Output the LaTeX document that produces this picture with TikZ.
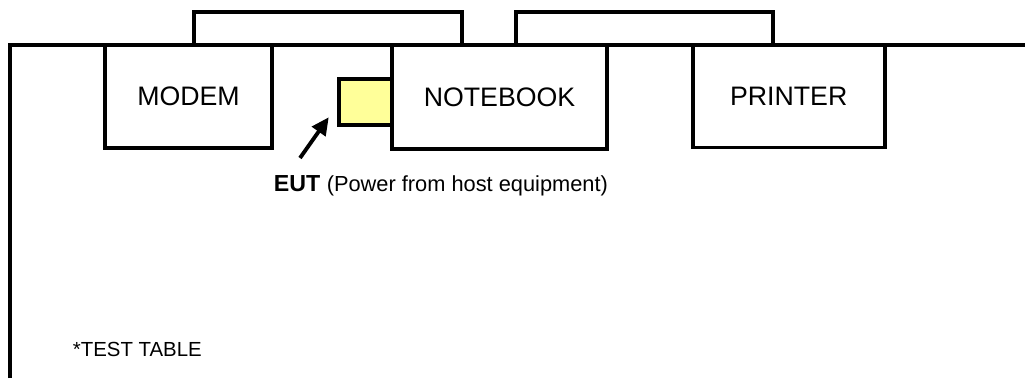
\documentclass[tikz,border=0pt]{standalone}
\usepackage{fontspec}
\setmainfont{Liberation Sans}
\usetikzlibrary{arrows.meta, positioning}

\definecolor{eutyellow}{HTML}{FFFF99}

\begin{document}
\begin{tikzpicture}[x=0.01cm, y=-0.01cm, line width=1.1pt,
		unit/.style={draw, rectangle, inner sep=0pt, font=\fontsize{7.6}{9}\selectfont},
		note/.style={anchor=base west, inner sep=0pt}]
	\useasboundingbox (0,0) rectangle (1025,378);
	% test table
	\draw (10.3,378) -- (10.3,44.7) -- (1025,44.7);
	% units on the table
	\node[unit, minimum width=2.683cm, minimum height=0.327cm] (rearleft) at (327.85,28.35) {};
	\node[unit, minimum width=2.567cm, minimum height=0.327cm] (rearright) at (644.35,28.35) {};
	\node[unit, minimum width=1.67cm, minimum height=1.033cm] (modem) at (188.5,96.35) {MODEM};
	\node[unit, minimum width=2.15cm, minimum height=1.043cm] (notebook) at (499.5,96.85) {NOTEBOOK};
	\node[unit, minimum width=1.92cm, minimum height=1.028cm] (printer) at (788.7,96.1) {PRINTER};
	\node[unit, fill=eutyellow, minimum width=0.533cm, minimum height=0.466cm] (eut) at (365.35,102) {};
	% labels
	\node[note] (eutlabel) at (272,191)
		{\fontsize{6.6}{8}\selectfont\textbf{EUT} \fontsize{6.2}{8}\selectfont(Power from host equipment)};
	\node[note, font=\fontsize{5.8}{7}\selectfont] (tablelabel) at (71,356.5) {*TEST TABLE};
	\coordinate (arrowtail) at (300,158);
	\draw[-{Triangle[length=5pt, width=4.6pt]}] (arrowtail) -- ([shift={(-8,-10)}]eut.south west);
\end{tikzpicture}
\end{document}
